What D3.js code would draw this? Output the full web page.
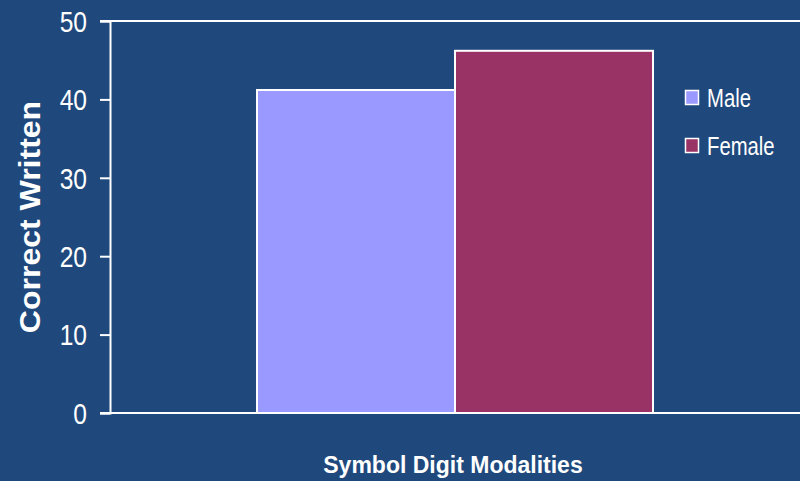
<!DOCTYPE html>
<html>
<head>
<meta charset="utf-8">
<script src="https://cdn.jsdelivr.net/npm/d3@7"></script>
<style>
  html, body { margin: 0; padding: 0; background: #1f497d; }
  svg { display: block; }
  text { font-family: "Liberation Sans", Arial, sans-serif; fill: #ffffff; }
</style>
</head>
<body>
<svg id="chart" width="800" height="481"></svg>
<script>
// Data
const categories = ["Symbol Digit Modalities"];
const seriesNames = ["Male", "Female"];
const maleValues = [41.2];
const femaleValues = [46.2];
const yTicks = [0, 10, 20, 30, 40, 50];
const seriesColors = ["#9999ff", "#993366"];

const W = 800, H = 481;
const margin = { top: 21, right: 0, bottom: 68, left: 110 };
const svg = d3.select("#chart");

const x0 = d3.scaleBand().domain(categories)
  .range([margin.left, W - margin.right]).padding(0.2707);
const x1 = d3.scaleBand().domain(seriesNames).range([0, x0.bandwidth()]);
const y = d3.scaleLinear().domain([0, 50]).range([H - margin.bottom, margin.top]);

const rows = categories.map((c, i) => ({
  category: c,
  values: [maleValues[i], femaleValues[i]]
}));

// Bars
const groups = svg.selectAll("g.cat").data(rows).enter().append("g")
  .attr("class", "cat")
  .attr("transform", d => `translate(${x0(d.category)},0)`);
groups.selectAll("rect").data(d => d.values.map((v, j) => ({ name: seriesNames[j], value: v, j })))
  .enter().append("rect")
  .attr("x", d => x1(d.name))
  .attr("y", d => y(d.value))
  .attr("width", x1.bandwidth())
  .attr("height", d => y(0) - y(d.value))
  .attr("fill", d => seriesColors[d.j])
  .attr("stroke", "#ffffff")
  .attr("stroke-width", 2);

// Top frame line
svg.append("line")
  .attr("x1", margin.left - 10).attr("x2", W)
  .attr("y1", y(50)).attr("y2", y(50))
  .attr("stroke", "#ffffff").attr("stroke-width", 2);

// Y axis with narrow tick labels
const tickSx = 0.82;
const yAxis = d3.axisLeft(y).tickValues(yTicks).tickSize(10).tickPadding(13).tickFormat(d3.format("d"));
const gy = svg.append("g").attr("transform", `translate(${margin.left},0)`).call(yAxis);
gy.select(".domain").attr("stroke", "#ffffff").attr("stroke-width", 2);
gy.selectAll(".tick line").attr("stroke", "#ffffff").attr("stroke-width", 2);
gy.selectAll(".tick text")
  .attr("fill", "#ffffff")
  .attr("x", -23 / tickSx)
  .attr("dy", "0.34em")
  .attr("transform", `scale(${tickSx},1)`)
  .style("font-size", "30px")
  .style("font-family", "'Liberation Sans', Arial, sans-serif");

// Bottom baseline
svg.append("line")
  .attr("x1", margin.left - 10).attr("x2", W)
  .attr("y1", y(0)).attr("y2", y(0))
  .attr("stroke", "#ffffff").attr("stroke-width", 2);

// Axis titles
svg.append("g")
  .attr("transform", `translate(40,${(y(0) + y(50)) / 2}) rotate(-90) scale(1,0.9)`)
  .append("text")
  .attr("text-anchor", "middle")
  .style("font-size", "32px").style("font-weight", "bold")
  .text("Correct Written");

svg.append("text")
  .attr("x", 453).attr("y", 473)
  .attr("text-anchor", "middle")
  .style("font-size", "23px").style("font-weight", "bold")
  .text(categories[0]);

// Legend
const legSx = 0.78;
const legend = svg.append("g").attr("transform", "translate(685,90)");
seriesNames.forEach((name, i) => {
  const g = legend.append("g").attr("transform", `translate(0,${i * 48})`);
  g.append("rect").attr("x", 0.5).attr("y", 0.5).attr("width", 13).attr("height", 14)
    .attr("fill", seriesColors[i]).attr("stroke", "#ffffff").attr("stroke-width", 1.5);
  g.append("g").attr("transform", `translate(22,17) scale(${legSx},1)`)
    .append("text")
    .style("font-size", "26px")
    .text(name);
});
</script>
</body>
</html>
